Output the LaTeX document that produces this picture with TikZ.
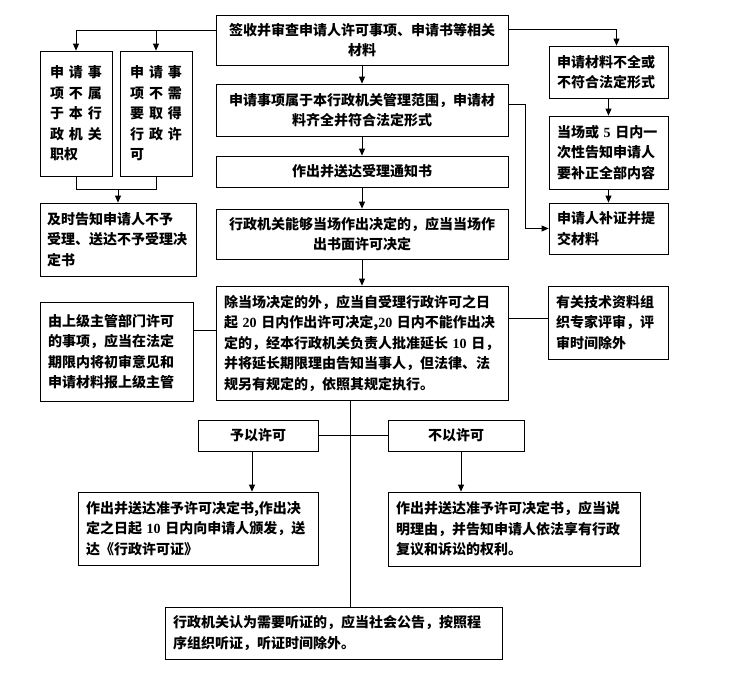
\documentclass[tikz,border=0pt]{standalone}
\usepackage{fontspec}
\setmainfont{Noto Sans CJK SC}
\newfontfamily\numfont{Liberation Serif}
\usetikzlibrary{arrows.meta}
\newcommand{\dg}[1]{{\numfont\bfseries #1}}

\begin{document}
\begin{tikzpicture}[x=1pt, y=-1pt,
    box/.style={draw, line width=0.8pt, inner xsep=8pt, inner ysep=2pt, font=\bfseries\fontsize{14}{20.5}\selectfont},
    arr/.style={-{Triangle[length=7pt,width=6pt]}, line width=0.8pt},
    conn/.style={line width=0.8pt}
  ]
    \useasboundingbox[fill=white] (0,0) rectangle (730,673);

    % main column
    \node[box, text width=276pt, minimum height=50pt, align=center] (sign) at (362,40) {签收并审查申请人许可事项、申请书等相关\\材料};
    \node[box, text width=276pt, minimum height=52pt, align=center] (scope) at (362,110) {申请事项属于本行政机关管理范围，申请材\\料齐全并符合法定形式};
    \node[box, text width=276pt, minimum height=31pt, align=center] (notice) at (362,171.5) {作出并送达受理通知书};
    \node[box, text width=276pt, minimum height=50pt, align=center] (spot) at (362,234) {行政机关能够当场作出决定的，应当当场作\\出书面许可决定};
    \node[box, text width=276pt, minimum height=114pt, align=left] (term) at (362,343) {除当场决定的外，应当自受理行政许可之日\\起 \dg{20} 日内作出许可决定,\dg{20} 日内不能作出决\\定的，经本行政机关负责人批准延长 \dg{10} 日，\\并将延长期限理由告知当事人，但法律、法\\规另有规定的，依照其规定执行。};

    % left column
    \node[box, inner xsep=10pt, text width=52pt, minimum height=125pt, align=left] (outside) at (76,113.5) {申\hfill 请\hfill 事\\项\hfill 不\hfill 属\\于\hfill 本\hfill 行\\政\hfill 机\hfill 关\\职权};
    \node[box, inner xsep=10pt, text width=52pt, minimum height=125pt, align=left] (exempt) at (156,113.5) {申\hfill 请\hfill 事\\项\hfill 不\hfill 需\\要\hfill 取\hfill 得\\行\hfill 政\hfill 许\\可};
    \node[box, inner xsep=7pt, text width=142pt, minimum height=73pt, align=left] (reject) at (118,239.5) {及时告知申请人不予\\受理、送达不予受理决\\定书};
    \node[box, text width=137pt, minimum height=99pt, align=left] (upper) at (116.5,351.5) {由上级主管部门许可\\的事项，应当在法定\\期限内将初审意见和\\申请材料报上级主管};

    % right column
    \node[box, text width=103pt, minimum height=52pt, align=left] (lack) at (608.5,72) {申请材料不全或\\不符合法定形式};
    \node[box, text width=103pt, minimum height=73pt, align=left] (inform) at (608.5,152.5) {当场或 \dg{5} 日内一\\次性告知申请人\\要补正全部内容};
    \node[box, text width=103pt, minimum height=51pt, align=left] (supply) at (608.5,228.5) {申请人补证并提\\交材料};
    \node[box, text width=104pt, minimum height=73pt, align=left] (expert) at (608,322.5) {有关技术资料组\\织专家评审，评\\审时间除外};

    % decisions
    \node[box, text width=104pt, minimum height=31pt, align=center] (yes) at (258,435.5) {予以许可};
    \node[box, text width=120pt, minimum height=31pt, align=center] (no) at (456,435.5) {不以许可};
    \node[box, text width=224pt, minimum height=73pt, align=left] (grant) at (198,528.5) {作出并送达准予许可决定书,作出决\\定之日起 \dg{10} 日内向申请人颁发，送\\达《行政许可证》};
    \node[box, text width=236pt, minimum height=74pt, align=left] (deny) at (514,529) {作出并送达准予许可决定书，应当说\\明理由，并告知申请人依法享有行政\\复议和诉讼的权利。};
    \node[box, text width=321pt, minimum height=52pt, align=left] (hear) at (333.5,633) {行政机关认为需要听证的，应当社会公告，按照程\\序组织听证，听证时间除外。};

    % connectors
    \draw[arr] (sign) -- (scope);
    \draw[arr] (scope) -- (notice);
    \draw[arr] (notice) -- (spot);
    \draw[arr] (spot) -- (term);

    \coordinate (sl) at ([yshift=10pt]sign.west);
    \draw[arr] (sl) -| (outside.north);
    \draw[arr] (exempt.north |- sl) -- (exempt.north);
    \coordinate (merge) at ([yshift=-13pt]outside.south);
    \draw[conn] (outside.south) -- (merge) -| (exempt.south);
    \draw[arr] (reject.north |- merge) -- (reject.north);

    \coordinate (sr) at ([yshift=11pt]sign.east);
    \coordinate (lt) at ([xshift=8pt]lack.north);
    \draw[arr] (sr) -| (lt);
    \draw[arr] (lack) -- (inform);
    \draw[arr] (inform) -- (supply);
    \draw[arr] ([yshift=6pt]scope.east) -- ++(17,0) |- (supply.west);

    \coordinate (ul) at ([yshift=21pt]upper.east);
    \draw[conn] (ul) -- (ul -| term.west);
    \coordinate (ex) at ([yshift=25pt]term.east);
    \draw[conn] (ex) -- (ex -| expert.west);

    \coordinate (trunk) at ([xshift=-12pt]term.south);
    \draw[conn] (trunk) -- (trunk |- hear.north);
    \draw[conn] (yes.east) -- (yes.east -| trunk);
    \draw[conn] (trunk |- no.west) -- (no.west);
    \coordinate (ys) at ([xshift=-6pt]yes.south);
    \draw[arr] (ys) -- (ys |- grant.north);
    \coordinate (ns) at ([xshift=5pt]no.south);
    \draw[arr] (ns) -- (ns |- deny.north);
  \end{tikzpicture}
\end{document}
